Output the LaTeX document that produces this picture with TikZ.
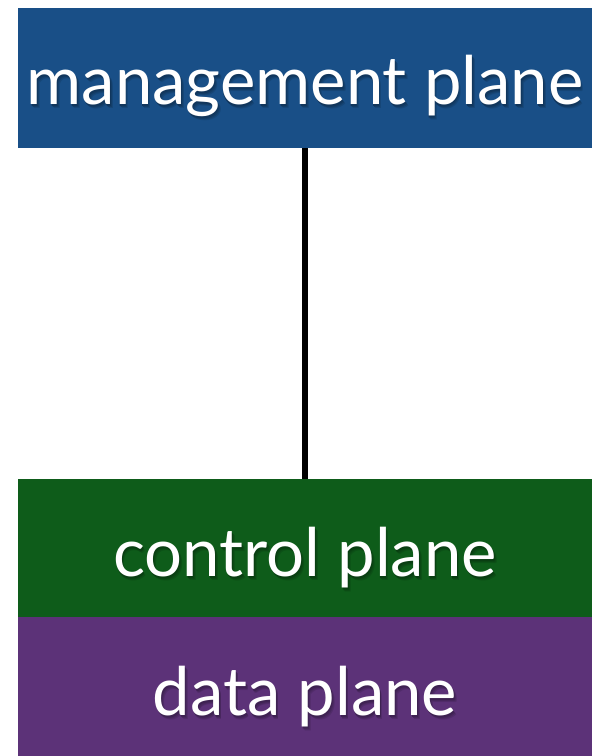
\documentclass[tikz,border=0pt]{standalone}
\usepackage{fontspec}
\setmainfont{Lato}
\definecolor{mgmtblue}{RGB}{25,79,135}
\definecolor{ctrlgreen}{RGB}{14,92,26}
\definecolor{datapurple}{RGB}{92,50,120}
% white text over a soft, layered drop shadow tinted from the box colour
\newcommand{\shadowed}[2]{%
  \makebox[0pt][l]{\kern2.6pt\raisebox{-4pt}{\textcolor{#1!88!black}{#2}}}%
  \makebox[0pt][l]{\kern1.8pt\raisebox{-2.8pt}{\textcolor{#1!78!black}{#2}}}%
  \makebox[0pt][l]{\kern0.9pt\raisebox{-1.6pt}{\textcolor{#1!68!black}{#2}}}%
  \textcolor{white}{#2}}
\begin{document}
\begin{tikzpicture}[x=1pt,y=1pt,
  plane/.style={rectangle, draw=none, inner sep=0pt, minimum width=574pt},
  label text/.style={anchor=base, inner sep=0pt, font=\fontsize{67}{67}\selectfont},
  link/.style={line width=6pt, black}]
\useasboundingbox (0,0) rectangle (612,756);

% stacked plane boxes
\node[plane, fill=mgmtblue, minimum height=140pt] (mgmt) at (305,678) {};
\node[plane, fill=ctrlgreen, minimum height=138pt] (ctrl) at (305,208) {};
\node[plane, fill=datapurple, minimum height=139pt] (data) at (305,69.5) {};

% connector between management and control plane
\draw[link] (mgmt.south) -- (ctrl.north);

% labels
\node[label text] (mgmtlabel) at (305,651) {\shadowed{mgmtblue}{management plane}};
\node[label text] (ctrllabel) at (305,179) {\shadowed{ctrlgreen}{control plane}};
\node[label text] (datalabel) at (305,40) {\shadowed{datapurple}{data plane}};
\end{tikzpicture}
\end{document}
